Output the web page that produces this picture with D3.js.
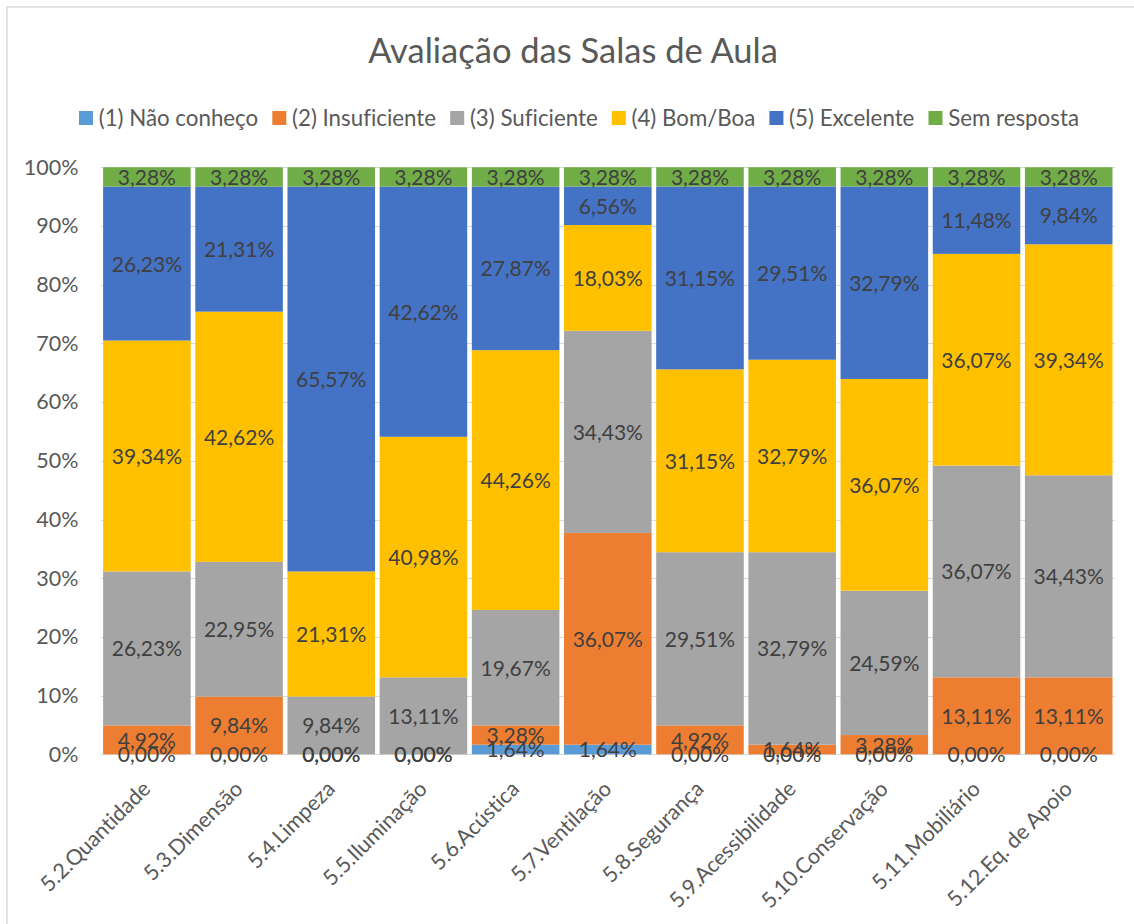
<!DOCTYPE html>
<html>
<head>
<meta charset="utf-8">
<script src="https://cdn.jsdelivr.net/npm/d3@7"></script>
<style>
  html, body { margin: 0; padding: 0; background: #fff; }
  svg { display: block; font-family: Lato, "Open Sans", sans-serif; font-variant-ligatures: none; }
</style>
</head>
<body>
<svg id="chart" width="1134" height="924"></svg>
<script>
// Categories (items evaluated)
const categories = [
  "5.2.Quantidade", "5.3.Dimensão", "5.4.Limpeza", "5.5.Iluminação",
  "5.6.Acústica", "5.7.Ventilação", "5.8.Segurança", "5.9.Acessibilidade",
  "5.10.Conservação", "5.11.Mobiliário", "5.12.Eq. de Apoio"
];

// Series names and colours
const seriesNames = ["(1) Não conheço", "(2) Insuficiente", "(3) Suficiente",
                     "(4) Bom/Boa", "(5) Excelente", "Sem resposta"];
const seriesColors = ["#5B9BD5", "#ED7D31", "#A5A5A5", "#FFC000", "#4472C4", "#70AD47"];

// Percentages per series, in category order
const naoConheco   = [0, 0, 0, 0, 1.64, 1.64, 0, 0, 0, 0, 0];
const insuficiente = [4.92, 9.84, 0, 0, 3.28, 36.07, 4.92, 1.64, 3.28, 13.11, 13.11];
const suficiente   = [26.23, 22.95, 9.84, 13.11, 19.67, 34.43, 29.51, 32.79, 24.59, 36.07, 34.43];
const bomBoa       = [39.34, 42.62, 21.31, 40.98, 44.26, 18.03, 31.15, 32.79, 36.07, 36.07, 39.34];
const excelente    = [26.23, 21.31, 65.57, 42.62, 27.87, 6.56, 31.15, 29.51, 32.79, 11.48, 9.84];
const semResposta  = [3.28, 3.28, 3.28, 3.28, 3.28, 3.28, 3.28, 3.28, 3.28, 3.28, 3.28];

// Axis tick labels
const yTicks = [0, 10, 20, 30, 40, 50, 60, 70, 80, 90, 100];

const seriesValues = [naoConheco, insuficiente, suficiente, bomBoa, excelente, semResposta];

const svg = d3.select("#chart");

// Outer chart frame
svg.append("rect")
  .attr("x", 7).attr("y", 7)
  .attr("width", 1200).attr("height", 1000)
  .attr("fill", "#fff")
  .attr("stroke", "#d9d9d9").attr("stroke-width", 1.5);

// Scales
const x = d3.scaleBand()
  .domain(categories)
  .range([100.8, 1114.8])
  .paddingInner(0.05)
  .paddingOuter(0.025);

const y = d3.scaleLinear().domain([0, 100]).range([754.3, 167.3]);

// Title
svg.append("text")
  .attr("x", 573).attr("y", 63)
  .attr("text-anchor", "middle")
  .attr("fill", "#595959")
  .attr("font-size", 34.5)
  .text("Avaliação das Salas de Aula");

// Gridlines
svg.append("g")
  .selectAll("line")
  .data(yTicks)
  .join("line")
  .attr("x1", 100.8).attr("x2", 1114.8)
  .attr("y1", d => Math.round(y(d)) + 0.5)
  .attr("y2", d => Math.round(y(d)) + 0.5)
  .attr("stroke", "#d9d9d9")
  .attr("stroke-width", 1);

// Y axis tick labels
const yAxis = d3.axisLeft(y)
  .tickValues(yTicks)
  .tickSize(0)
  .tickPadding(0)
  .tickFormat(d => d + "%");

const yg = svg.append("g")
  .attr("transform", "translate(78.5,0)")
  .call(yAxis);
yg.select(".domain").remove();
yg.selectAll("text")
  .attr("fill", "#595959")
  .attr("font-size", 21.5)
  .attr("font-family", "Lato, sans-serif");

// Stack the series
const rows = categories.map((c, i) => {
  const r = { category: c };
  seriesNames.forEach((s, k) => { r[s] = seriesValues[k][i]; });
  return r;
});
const stacked = d3.stack().keys(seriesNames)(rows);

const fmt = v => v.toFixed(2).replace(".", ",") + "%";

// Bars
const layers = svg.append("g")
  .selectAll("g")
  .data(stacked)
  .join("g")
  .attr("fill", (d, k) => seriesColors[k]);

layers.selectAll("rect")
  .data(d => d)
  .join("rect")
  .attr("x", d => x(d.data.category))
  .attr("width", x.bandwidth())
  .attr("y", d => y(d[1]))
  .attr("height", d => y(d[0]) - y(d[1]));

// Data labels (centred in each segment)
const labels = svg.append("g")
  .selectAll("g")
  .data(stacked)
  .join("g");

labels.selectAll("text")
  .data(d => d.map(p => ({ p, key: d.key })))
  .join("text")
  .attr("x", d => x(d.p.data.category) + x.bandwidth() / 2)
  .attr("y", d => y((d.p[0] + d.p[1]) / 2))
  .attr("dy", "0.38em")
  .attr("text-anchor", "middle")
  .attr("fill", "#404040")
  .attr("font-size", 21)
  .text(d => fmt(d.p.data[d.key]));

// X axis category labels, rotated 45 degrees
const xAxis = d3.axisBottom(x).tickSize(0).tickPadding(0);
const xg = svg.append("g")
  .attr("transform", "translate(0,754.3)")
  .call(xAxis);
xg.select(".domain").remove();
xg.selectAll("text")
  .attr("fill", "#595959")
  .attr("font-size", 21.5)
  .attr("font-family", "Lato, sans-serif")
  .attr("text-anchor", "end")
  .attr("dy", null)
  .attr("y", 0)
  .attr("transform", "translate(5,36) rotate(-45)");

// Legend, laid out from measured text widths and centred
const legendLeft = 79, legendRight = 1079, marker = 14, markerGap = 5.7;
const legend = svg.append("g").attr("transform", "translate(0,118)");
const entries = seriesNames.map((name, k) => {
  const g = legend.append("g");
  g.append("rect")
    .attr("x", 0).attr("y", -marker / 2)
    .attr("width", marker).attr("height", marker)
    .attr("fill", seriesColors[k]);
  const t = g.append("text")
    .attr("x", marker + markerGap).attr("y", 0)
    .attr("dy", "0.36em")
    .attr("fill", "#595959")
    .attr("font-size", 22.3)
    .text(name);
  return { g, w: marker + markerGap + t.node().getComputedTextLength() };
});
const totalW = d3.sum(entries, e => e.w);
const itemGap = Math.max(8, (legendRight - legendLeft - totalW) / (entries.length - 1));
let cx = (legendLeft + legendRight) / 2 - (totalW + itemGap * (entries.length - 1)) / 2;
entries.forEach(e => {
  e.g.attr("transform", `translate(${cx},0)`);
  cx += e.w + itemGap;
});
</script>
</body>
</html>
